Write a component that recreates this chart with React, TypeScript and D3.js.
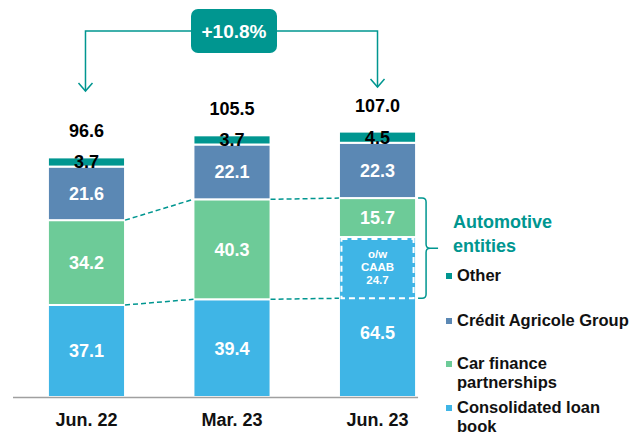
import React from 'react';
import * as d3 from 'd3';

const categories = ['Jun. 22', 'Mar. 23', 'Jun. 23'];
const consolidated = [37.1, 39.4, 64.5];
const carFinance = [34.2, 40.3, 15.7];
const caGroup = [21.6, 22.1, 22.3];
const other = [3.7, 3.7, 4.5];
const totals = ['96.6', '105.5', '107.0'];
const caab = 24.7;
const growth = '+10.8%';

const colors = ['#3FB5E6', '#6DCB98', '#5B88B4', '#009690'];
const teal = '#009690';
const font = 'Liberation Sans, Arial, sans-serif';

const App: React.FC = () => {
  const width = 639;
  const height = 435;

  const x = d3.scaleBand<string>()
    .domain(categories)
    .range([13, 451])
    .paddingInner(0.47)
    .paddingOuter(0.24);

  const y = d3.scaleLinear().domain([0, 107]).range([397, 131.6]);

  const rows = categories.map((c, i) => ({
    cat: c,
    consolidated: consolidated[i],
    carFinance: carFinance[i],
    caGroup: caGroup[i],
    other: other[i],
  }));
  const keys = ['consolidated', 'carFinance', 'caGroup', 'other'];
  const stack = d3.stack<any>().keys(keys)(rows);

  const bw = x.bandwidth();
  const cx = (c: string) => (x(c) as number) + bw / 2;

  // dashed connectors between the car finance blocks
  const top = (i: number) => y(consolidated[i] + carFinance[i]);
  const bottom = (i: number) => (i === 2 ? y(consolidated[2] - caab) : y(consolidated[i]));

  const last = categories[2];
  const lastX = x(last) as number;
  const brX = lastX + bw + 2;
  const brTop = top(2);
  const brBot = bottom(2);
  const brMid = (brTop + brBot) / 2;
  const r = 4;

  const boxW = 86;
  const boxH = 44;
  const boxCx = 234;
  const boxY = 9;
  const lineY = boxY + boxH / 2;

  return (
    <svg width={width} height={height} style={{ position: 'absolute', left: 0, top: 0 }} fontFamily={font}>
      {/* growth annotation */}
      <g stroke={teal} strokeWidth={1.5} fill="none">
        <path d={`M${boxCx - boxW / 2},${lineY} H${cx(categories[0]) - 1} V91`} />
        <path d={`M${cx(categories[0]) - 8},83 L${cx(categories[0]) - 1},91 L${cx(categories[0]) + 6},83`} />
        <path d={`M${boxCx + boxW / 2},${lineY} H${cx(last)} V87`} />
        <path d={`M${cx(last) - 7},79 L${cx(last)},87 L${cx(last) + 7},79`} />
      </g>
      <rect x={boxCx - boxW / 2} y={boxY} width={boxW} height={boxH} rx={7} fill={teal} />
      <text x={boxCx} y={lineY + 7} textAnchor="middle" fill="#fff" fontWeight="bold" fontSize={19}>{growth}</text>

      {/* bars */}
      {stack.map((s, si) => (
        <g key={s.key}>
          {s.map((d, i) => (
            <rect
              key={i}
              x={x(categories[i])}
              y={y(d[1])}
              width={bw}
              height={y(d[0]) - y(d[1])}
              fill={colors[si]}
              stroke="#fff"
              strokeWidth={2}
            />
          ))}
        </g>
      ))}

      {/* CAAB dashed box */}
      <rect
        x={lastX + 2.5}
        y={y(consolidated[2]) + 2}
        width={bw - 5}
        height={y(consolidated[2] - caab) - y(consolidated[2]) - 2}
        fill="none"
        stroke="#fff"
        strokeWidth={2}
        strokeDasharray="6,4"
      />
      <g fill="#fff" fontWeight="bold" fontSize={11.5} textAnchor="middle">
        <text x={cx(last)} y={258}>o/w</text>
        <text x={cx(last)} y={271}>CAAB</text>
        <text x={cx(last)} y={284}>{caab}</text>
      </g>

      {/* segment labels */}
      {stack.map((s, si) => (
        <g key={'l' + s.key}>
          {s.map((d, i) => {
            let my = (y(d[0]) + y(d[1])) / 2;
            if (si === 0 && i === 2) {
              const lower = (y(0) + y(consolidated[2] - caab)) / 2;
              my = (my + lower) / 2;
            }
            return (
              <text
                key={i}
                x={cx(categories[i])}
                y={my}
                dy="0.36em"
                textAnchor="middle"
                fontWeight="bold"
                fontSize={18}
                fill={si === 3 ? '#000' : '#fff'}
              >
                {(d[1] - d[0]).toFixed(1)}
              </text>
            );
          })}
        </g>
      ))}

      {/* totals */}
      {categories.map((c, i) => (
        <text key={c} x={cx(c)} y={y(d3.sum([consolidated[i], carFinance[i], caGroup[i], other[i]])) - 20} textAnchor="middle" fontWeight="bold" fontSize={18} fill="#000">
          {totals[i]}
        </text>
      ))}

      {/* connectors */}
      <g stroke={teal} strokeWidth={1.5} strokeDasharray="5,3" fill="none">
        {[0, 1].map(i => (
          <g key={i}>
            <line x1={(x(categories[i]) as number) + bw} y1={top(i)} x2={x(categories[i + 1])} y2={top(i + 1)} />
            <line x1={(x(categories[i]) as number) + bw} y1={bottom(i)} x2={x(categories[i + 1])} y2={bottom(i + 1)} />
          </g>
        ))}
      </g>

      {/* bracket */}
      <path
        d={`M${brX},${brTop} H${brX + 8 - r} Q${brX + 8},${brTop} ${brX + 8},${brTop + r} V${brMid - r} Q${brX + 8},${brMid} ${brX + 8 + r},${brMid} H${brX + 20} M${brX + 8 + r},${brMid} Q${brX + 8},${brMid} ${brX + 8},${brMid + r} V${brBot - r} Q${brX + 8},${brBot} ${brX + 8 - r},${brBot} H${brX}`}
        stroke={teal}
        strokeWidth={1.5}
        fill="none"
      />
      <g fill={teal} fontWeight="bold" fontSize={18}>
        <text x={453} y={228}>Automotive</text>
        <text x={453} y={252}>entities</text>
      </g>

      {/* axis */}
      <line x1={13} x2={lastX + bw + 2} y1={y(0) + 0.5} y2={y(0) + 0.5} stroke="#A0A0A0" strokeWidth={1.5} />
      {categories.map(c => (
        <text key={c} x={cx(c)} y={426} textAnchor="middle" fontWeight="bold" fontSize={18} fill="#111">{c}</text>
      ))}

      {/* legend */}
      <g fontWeight="bold" fontSize={16.5} fill="#111">
        {[
          { i: 3, lines: ['Other'], y0: 281 },
          { i: 2, lines: ['Crédit Agricole Group'], y0: 326 },
          { i: 1, lines: ['Car finance', 'partnerships'], y0: 369 },
          { i: 0, lines: ['Consolidated loan', 'book'], y0: 413 },
        ].map(item => (
          <g key={item.i}>
            <rect x={446} y={item.y0 - 8} width={6} height={6} fill={colors[item.i]} />
            {item.lines.map((t, li) => (
              <text key={li} x={457} y={item.y0 + li * 18.5}>{t}</text>
            ))}
          </g>
        ))}
      </g>
    </svg>
  );
};

export default App;
